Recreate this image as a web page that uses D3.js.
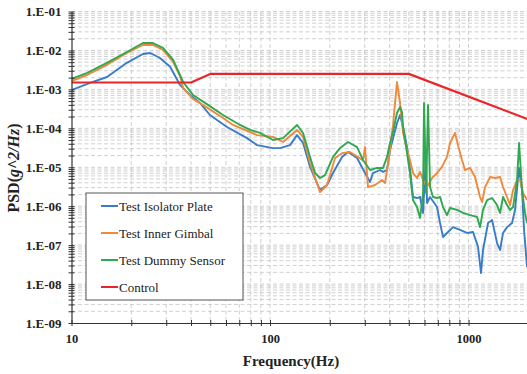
<!DOCTYPE html>
<html>
<head>
<meta charset="utf-8">
<script src="https://cdn.jsdelivr.net/npm/d3@7"></script>
<style>
  body { margin: 0; background: #fff; }
  svg { display: block; }
</style>
</head>
<body>
<script>
// data: [frequency Hz, PSD g^2/Hz]
const control = [[10, 1.5e-3], [40, 1.5e-3], [50, 2.5e-3], [500, 2.5e-3], [2000, 1.7e-4]];

const isolatorPlate = [
  [10, 9.6e-4], [12.4, 1.46e-3], [15.1, 2.08e-3], [19, 4.8e-3], [22.9, 8.1e-3], [24.9, 8.6e-3],
  [27.9, 6.4e-3], [31.4, 3.8e-3], [35.2, 1.3e-3], [39.5, 7.2e-4], [44.4, 4.5e-4], [49.8, 2.2e-4],
  [60.7, 1.08e-4], [76.6, 5.6e-5], [86, 3.7e-5], [103.5, 3.1e-5], [112.3, 3.1e-5], [126.1, 3.7e-5],
  [136.8, 6.7e-5], [146.7, 4.2e-5], [159.1, 1.02e-5], [178.6, 2.6e-6], [193.7, 3.5e-6], [207.7, 7.1e-6],
  [230.6, 1.84e-5], [247.2, 2.47e-5], [274.4, 1.73e-5], [301, 7.1e-6], [319, 4.2e-6], [330, 7.1e-6],
  [358, 8.5e-6], [371, 7.6e-6], [388.6, 8.5e-6], [402.4, 2.8e-5], [436.4, 1.37e-4], [451.9, 2.2e-4],
  [467.7, 1.08e-4], [490, 3.3e-5], [507.4, 8.5e-6], [525.3, 1.72e-6], [550.3, 1.62e-6], [569.7, 1.72e-6],
  [590, 6.7e-7], [610.9, 2.3e-5], [618.1, 1.21e-6], [639.8, 1.72e-6], [694, 9.5e-7], [718.6, 3.7e-7],
  [744, 1.62e-7], [779, 2.05e-7], [835.5, 2.9e-7], [906, 2.45e-7], [982.7, 2.05e-7], [1053.6, 2.17e-7],
  [1116.5, 9.0e-8], [1156, 1.92e-8], [1183, 7.5e-8], [1254, 3.7e-7], [1314, 4.4e-7], [1392, 1.13e-7],
  [1441, 7.5e-8], [1492, 2.05e-7], [1563, 2.9e-7], [1656, 3.7e-7], [1715, 8.0e-7], [1797, 9.6e-6],
  [1860, 2.6e-6], [1904, 2.45e-7], [1971, 2.7e-8]
];

const innerGimbal = [
  [10, 1.64e-3], [12, 2.34e-3], [14.75, 4.0e-3], [19, 8.6e-3], [22.9, 1.38e-2], [25.7, 1.38e-2],
  [28.9, 1.03e-2], [32.5, 5.05e-3], [35.2, 2.2e-3], [36.5, 1.08e-3], [40.9, 5.7e-4], [48.7, 3.3e-4],
  [58, 1.84e-4], [65.1, 1.22e-4], [86, 6.7e-5], [103.5, 6.0e-5], [116.3, 4.45e-5], [136.8, 9.1e-5],
  [146.7, 6.0e-5], [159.1, 1.29e-5], [178.6, 2.3e-6], [193.7, 3.5e-6], [212.6, 1.73e-5], [230.6, 2.3e-5],
  [252.9, 2.47e-5], [277.5, 1.84e-5], [294, 1.5e-5], [301, 3.3e-5], [311.7, 3.1e-6], [338, 3.5e-6],
  [366.7, 4.7e-6], [380, 3.9e-6], [402, 2.8e-5], [416.6, 1.22e-4], [436, 1.55e-3], [452, 4.47e-4],
  [468, 7.6e-5], [490, 2.8e-5], [507, 1.54e-5], [525, 7.1e-6], [550, 5.3e-6], [570, 7.6e-6],
  [590, 4.7e-6], [618, 3.1e-6], [655, 5.3e-6], [694, 7.1e-6], [735, 1.02e-5], [779, 1.84e-5],
  [807, 4.2e-5], [855, 7.6e-5], [885, 3.7e-5], [927, 1.54e-5], [960, 8.5e-6], [1018, 9.6e-6],
  [1078, 5.6e-6], [1143, 1.72e-6], [1170, 1.28e-6], [1211, 3.1e-6], [1283, 5.6e-6], [1360, 5.3e-6],
  [1441, 5.6e-6], [1492, 3.1e-6], [1563, 1.72e-6], [1619, 1.07e-6], [1676, 2.6e-6], [1755, 4.7e-6],
  [1817, 4.7e-6], [1882, 2.18e-6], [1971, 1.44e-6]
];

const dummySensor = [
  [10, 1.85e-3], [12, 2.64e-3], [14.75, 4.5e-3], [19, 9.1e-3], [22.9, 1.55e-2], [25.7, 1.55e-2],
  [28.9, 1.16e-2], [32.5, 5.7e-3], [35.2, 2.34e-3], [36.5, 1.55e-3], [40.9, 7.2e-4], [48.7, 4.0e-4],
  [58, 2.2e-4], [70.6, 1.22e-4], [79.3, 9.1e-5], [89, 7.6e-5], [103.5, 5.0e-5], [116.3, 5.6e-5],
  [136.8, 1.22e-4], [146.7, 7.6e-5], [159.1, 1.84e-5], [168.6, 7.1e-6], [178.6, 5.3e-6], [189.2, 6.3e-6],
  [207.7, 1.84e-5], [225.2, 3.1e-5], [247.2, 4.45e-5], [274.4, 3.3e-5], [294, 1.54e-5], [319, 8.5e-6],
  [346, 9.6e-6], [371, 9.6e-6], [388.6, 1.84e-5], [402, 4.2e-5], [416.6, 8.0e-5], [436, 2.47e-4],
  [452, 3.53e-4], [462, 2.63e-4], [468, 1.08e-4], [490, 2.3e-5], [507, 7.1e-6], [525, 1.44e-6],
  [550, 9.5e-7], [570, 5.0e-7], [590, 2.18e-6], [597, 4.47e-4], [611, 2.18e-6], [625, 3.97e-4],
  [640, 3.1e-6], [662, 1.72e-6], [694, 1.62e-6], [719, 1.72e-6], [744, 9.5e-7], [779, 5.9e-7],
  [807, 9.0e-7], [875, 8.0e-7], [938, 6.7e-7], [1018, 5.9e-7], [1104, 5.3e-7], [1143, 2.9e-7],
  [1183, 8.0e-7], [1240, 1.44e-6], [1314, 1.62e-6], [1392, 1.07e-6], [1441, 6.7e-7], [1492, 1.72e-6],
  [1563, 1.07e-6], [1619, 8.0e-7], [1676, 9.5e-7], [1755, 4.7e-6], [1797, 4.2e-5], [1860, 2.6e-6],
  [1926, 6.7e-7], [1971, 3.7e-7]
];

const seriesNames = ["Test Isolator Plate", "Test Inner Gimbal", "Test Dummy Sensor", "Control"];
const seriesColors = ["#3a7cc8", "#ef8a3c", "#2fa84f", "#e8262a"];

const xTickValues = [10, 100, 1000];
const xTickLabels = ["10", "100", "1000"];
const yTickValues = [1e-9, 1e-8, 1e-7, 1e-6, 1e-5, 1e-4, 1e-3, 1e-2, 1e-1];
const yTickLabels = ["1.E-09", "1.E-08", "1.E-07", "1.E-06", "1.E-05", "1.E-04", "1.E-03", "1.E-02", "1.E-01"];

const W = 527, H = 374;
const plotL = 71.5, plotT = 11.5, plotB = 323, plotR = 528.3;

const x = d3.scaleLog().domain([10, 2000]).range([plotL, plotR]);
const y = d3.scaleLog().domain([1e-9, 1e-1]).range([plotB, plotT]);

const svg = d3.select("body").append("svg")
  .attr("width", W).attr("height", H)
  .style("font-family", "'Liberation Serif', 'Times New Roman', serif");

// minor positions for grid + ticks
let xMinor = [];
for (let d = 10; d <= 1000; d *= 10)
  for (let k = 1; k <= 9; k++) if (k * d <= 2000) xMinor.push(k * d);
let yMinor = [];
for (let e = -9; e <= -2; e++)
  for (let k = 1; k <= 9; k++) yMinor.push(k * Math.pow(10, e));
yMinor.push(1e-1);

const grid = svg.append("g").attr("stroke", "#c4c4c4").attr("stroke-width", 0.8)
  .attr("stroke-dasharray", "4,2.5");
grid.selectAll(".gx").data(xMinor.slice(1)).enter().append("line")
  .attr("x1", d => x(d)).attr("x2", d => x(d))
  .attr("y1", plotT).attr("y2", plotB);
grid.selectAll(".gy").data(yMinor.slice(1)).enter().append("line")
  .attr("x1", plotL).attr("x2", W)
  .attr("y1", d => y(d)).attr("y2", d => y(d));

// curves
svg.append("clipPath").attr("id", "clip").append("rect")
  .attr("x", plotL).attr("y", plotT).attr("width", plotR - plotL).attr("height", plotB - plotT);

let line = d3.line().x(d => x(d[0])).y(d => y(d[1]));
let plot = svg.append("g").attr("clip-path", "url(#clip)");
[isolatorPlate, innerGimbal, dummySensor, control].forEach((s, i) => {
  plot.append("path").datum(s)
    .attr("d", line)
    .attr("fill", "none")
    .attr("stroke", seriesColors[i])
    .attr("stroke-width", i == 3 ? 2.2 : 1.9)
    .attr("stroke-linejoin", "round");
});

// axes
let xAxis = svg.append("g").attr("transform", `translate(0,${plotB})`)
  .call(d3.axisBottom(x).tickValues(xMinor).tickSizeOuter(0)
    .tickFormat(d => { let i = xTickValues.indexOf(d); return i < 0 ? "" : xTickLabels[i]; }));
xAxis.select(".domain").attr("stroke", "#333").attr("stroke-width", 1.2);
xAxis.selectAll(".tick line").attr("y1", -3).attr("y2", 3).attr("stroke", "#333");
xAxis.selectAll(".tick text").attr("y", 11)
  .style("font-family", "'Liberation Serif', serif").style("font-size", "12.5px")
  .style("font-weight", "bold").attr("fill", "#222");

let yAxis = svg.append("g").attr("transform", `translate(${plotL},0)`)
  .call(d3.axisLeft(y).tickValues(yMinor).tickSizeOuter(0)
    .tickFormat(d => { let i = yTickValues.findIndex(v => Math.abs(v - d) / v < 1e-6); return i < 0 ? "" : yTickLabels[i]; }));
yAxis.select(".domain").attr("stroke", "#333").attr("stroke-width", 1.2);
yAxis.selectAll(".tick line").attr("x1", -3).attr("x2", 3).attr("stroke", "#333");
yAxis.selectAll(".tick text").attr("x", -10)
  .style("font-family", "'Liberation Serif', serif").style("font-size", "13px")
  .style("font-weight", "bold").attr("fill", "#222");

// axis titles
svg.append("text").attr("x", 291).attr("y", 366).attr("text-anchor", "middle")
  .style("font-size", "15px").style("font-weight", "bold").attr("fill", "#222")
  .text("Frequency(Hz)");

let yl = svg.append("text").attr("transform", "translate(19,168) rotate(-90)")
  .attr("text-anchor", "middle").style("font-size", "16px").style("font-weight", "bold").attr("fill", "#222");
yl.append("tspan").text("PSD(");
yl.append("tspan").style("font-style", "italic").text("g^2/Hz");
yl.append("tspan").text(")");

// legend
let lg = svg.append("g");
lg.append("rect").attr("x", 86).attr("y", 193).attr("width", 157).attr("height", 107)
  .attr("fill", "#fff").attr("stroke", "#555").attr("stroke-width", 1);
seriesNames.forEach((n, i) => {
  let ly = 206 + i * 27;
  lg.append("line").attr("x1", 101).attr("x2", 118).attr("y1", ly).attr("y2", ly)
    .attr("stroke", seriesColors[i]).attr("stroke-width", 2);
  lg.append("text").attr("x", 119).attr("y", ly + 4.5)
    .style("font-size", "13px").attr("fill", "#222").text(n);
});
</script>
</body>
</html>
